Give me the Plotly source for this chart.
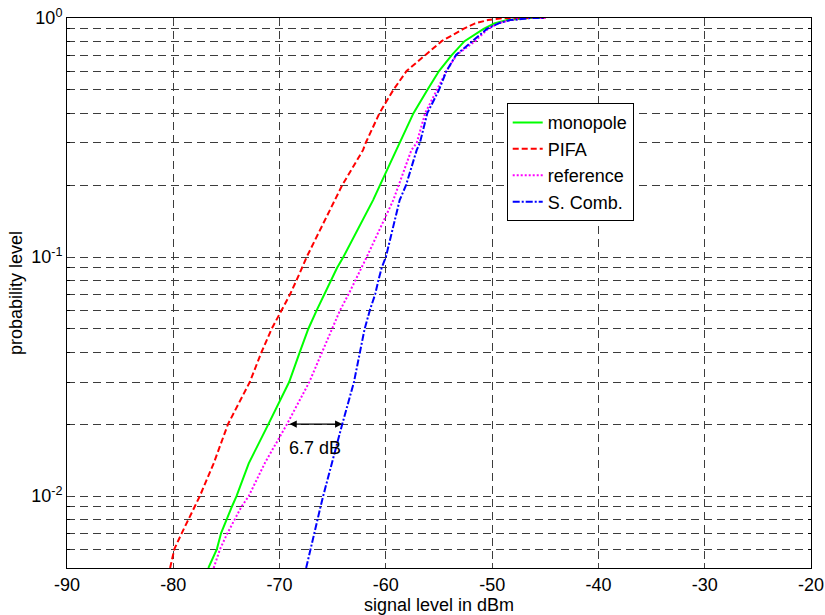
import numpy as np
import plotly.graph_objects as go

# probability levels (y) shared by all series
prob = [0.005, 0.006, 0.007, 0.008, 0.009, 0.01, 0.0137, 0.02, 0.03, 0.04, 0.05,
        0.06, 0.07, 0.08, 0.09, 0.1, 0.173, 0.2, 0.28, 0.3, 0.4, 0.5, 0.6, 0.7,
        0.8, 0.9, 0.95, 0.98, 1.0, 1.0]

monopole = [-76.7, -75.9, -75.5, -75.0, -74.5, -74.05, -72.9, -71.05, -69.1, -68.1, -67.3,
            -66.5, -65.8, -65.2, -64.6, -64.0, -61.2, -60.55, -59.0, -58.7, -57.4, -56.1, -55.0, -53.8,
            -52.6, -50.8, -49.8, -48.6, -46.5, -45.0]
pifa = [-80.3, -79.9, -79.2, -78.6, -78.0, -77.5, -76.2, -74.85, -72.8, -71.7, -70.75,
        -69.8, -69.0, -68.4, -67.9, -67.45, -64.8, -64.1, -62.15, -61.9, -60.6, -59.3, -58.05, -56.3,
        -54.75, -52.7, -51.6, -50.4, -49.0, -45.0]
reference = [-76.2, -75.6, -74.9, -74.2, -73.6, -72.9, -71.4, -69.3, -67.2, -66.0, -65.1,
             -64.3, -63.5, -62.85, -62.3, -61.8, -59.3, -58.8, -57.6, -57.1, -56.3, -55.2, -54.3, -53.35,
             -51.6, -50.4, -49.4, -48.3, -46.5, -45.0]
scomb = [-67.5, -67.1, -66.7, -66.4, -66.15, -65.9, -65.1, -64.1, -63.0, -62.4, -62.0,
         -61.5, -61.0, -60.7, -60.4, -60.0, -58.7, -58.1, -57.1, -56.8, -56.1, -55.0, -54.3, -53.4,
         -51.8, -50.5, -49.4, -48.3, -46.3, -45.0]

x_ticks = [-90, -80, -70, -60, -50, -40, -30, -20]
x_tick_text = ["-90", "-80", "-70", "-60", "-50", "-40", "-30", "-20"]
y_major = [0.01, 0.1, 1.0]
y_major_text = ["10<sup>-2</sup>", "10<sup>-1</sup>", "10<sup>0</sup>"]
y_minor = [0.005, 0.006, 0.007, 0.008, 0.009, 0.02, 0.03, 0.04, 0.05, 0.06, 0.07, 0.08, 0.09,
           0.2, 0.3, 0.4, 0.5, 0.6, 0.7, 0.8, 0.9]

arrow_level = 0.02
arrow_from = -69.2
arrow_to = -64.1
arrow_label = "6.7 dB"

font_family = "Liberation Sans, Arial, sans-serif"
grid_color = "#3c3c3c"
grid_dash = "8px,5px"

fig = go.Figure()
fig.add_trace(go.Scatter(x=monopole, y=prob, mode="lines", name="monopole",
                         line=dict(color="#00ff00", width=2)))
fig.add_trace(go.Scatter(x=pifa, y=prob, mode="lines", name="PIFA",
                         line=dict(color="#ff0000", width=2, dash="6px,3px")))
fig.add_trace(go.Scatter(x=reference, y=prob, mode="lines", name="reference",
                         line=dict(color="#ff00ff", width=2, dash="2px,2px")))
fig.add_trace(go.Scatter(x=scomb, y=prob, mode="lines", name="S. Comb.",
                         line=dict(color="#0000ff", width=2, dash="7px,2px,2px,2px")))

fig.add_annotation(x=arrow_to, y=np.log10(arrow_level), ax=arrow_from, ay=np.log10(arrow_level),
                   xref="x", yref="y", axref="x", ayref="y", text="", showarrow=True,
                   arrowhead=2, startarrowhead=2, arrowside="end+start", arrowsize=1.2,
                   arrowwidth=1.2, arrowcolor="black")
fig.add_annotation(x=(arrow_from + arrow_to) / 2, y=np.log10(arrow_level) - 0.1,
                   xref="x", yref="y", text=arrow_label, showarrow=False,
                   font=dict(size=18, color="black", family=font_family))

fig.update_layout(
    width=825, height=615,
    margin=dict(l=67, r=14, t=18, b=47),
    paper_bgcolor="white", plot_bgcolor="white",
    font=dict(family=font_family, size=18, color="black"),
    showlegend=True,
    legend=dict(x=0.591, y=0.845, xanchor="left", yanchor="top",
                bgcolor="white", bordercolor="black", borderwidth=1,
                font=dict(size=18), tracegroupgap=0),
    xaxis=dict(range=[-90, -20], tickvals=x_ticks, ticktext=x_tick_text,
               ticks="inside", ticklen=5, tickfont=dict(size=18),
               showline=True, linecolor="black", linewidth=1, mirror="ticks",
               showgrid=True, gridcolor=grid_color, griddash=grid_dash, gridwidth=1,
               zeroline=False, automargin=False,
               title=dict(text="signal level in dBm", standoff=0, font=dict(size=18))),
    yaxis=dict(type="log", range=[np.log10(0.005), 0], tickvals=y_major, ticktext=y_major_text,
               ticks="inside", ticklen=5, tickfont=dict(size=18),
               showline=True, linecolor="black", linewidth=1, mirror="ticks",
               showgrid=True, gridcolor=grid_color, griddash=grid_dash, gridwidth=1,
               minor=dict(tickvals=y_minor, ticks="inside", ticklen=3, tickcolor="black",
                          showgrid=True, gridcolor=grid_color, griddash=grid_dash, gridwidth=1),
               zeroline=False, automargin=False,
               title=dict(text="probability level", standoff=3, font=dict(size=18))),
)

fig.write_html("out.html", config={"displayModeBar": False},
               post_script="document.body.style.margin='0';")
